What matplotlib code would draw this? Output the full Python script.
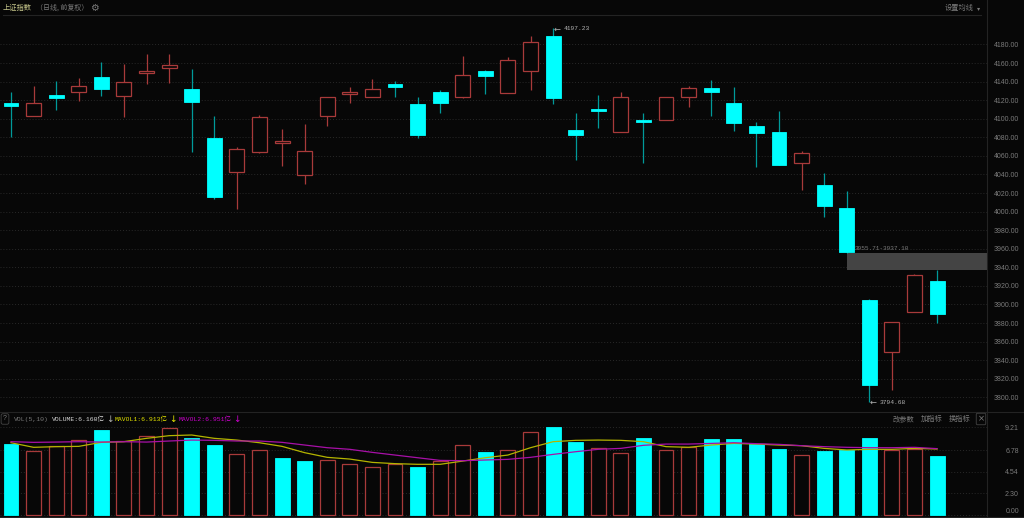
import matplotlib
matplotlib.use('Agg')
import matplotlib.pyplot as plt
from matplotlib.lines import Line2D
from matplotlib.patches import Rectangle

W, H = 1024, 518

# daily candles
opens = [4116.6, 4102.6, 4125.6, 4129.2, 4144.6, 4124.9, 4149.7, 4155.0, 4131.7, 4079.3, 4043.0, 4064.2, 4074.3, 4039.8,
         4102.6, 4127.0, 4123.8, 4137.1, 4115.6, 4129.2, 4123.4, 4151.1, 4128.1, 4151.1, 4189.5, 4087.5, 4110.2, 4085.4,
         4098.7, 4098.3, 4123.1, 4133.1, 4117.0, 4091.9, 4085.7, 4052.4, 4028.3, 4004.2, 3904.8, 3848.8, 3891.9, 3924.9]
closes = [4113.4, 4116.6, 4122.7, 4135.7, 4132.4, 4139.2, 4151.5, 4157.6, 4118.1, 4015.7, 4067.1, 4101.5, 4075.7, 4064.9,
          4123.1, 4128.5, 4131.7, 4133.9, 4082.2, 4117.4, 4146.8, 4146.4, 4162.9, 4182.3, 4122.7, 4082.2, 4108.7, 4123.4,
          4096.5, 4123.1, 4132.8, 4129.2, 4095.4, 4085.0, 4049.8, 4062.8, 4006.4, 3956.9, 3813.6, 3880.7, 3931.4, 3889.3]
highs = [4128.8, 4135.7, 4140.3, 4143.6, 4160.8, 4159.0, 4170.1, 4170.1, 4153.2, 4103.0, 4069.6, 4104.4, 4088.6, 4094.4,
         4123.1, 4133.9, 4142.5, 4140.3, 4123.8, 4131.0, 4167.6, 4152.2, 4166.5, 4188.8, 4197.23, 4105.9, 4125.6, 4128.8,
         4106.2, 4123.8, 4135.7, 4141.8, 4133.9, 4096.2, 4108.4, 4065.3, 4041.6, 4022.2, 3905.9, 3880.7, 3932.8, 3937.10]
lows = [4080.0, 4102.6, 4109.8, 4119.5, 4124.5, 4102.3, 4137.8, 4138.5, 4064.6, 4013.6, 4002.8, 4062.8, 4048.8, 4029.7,
        4092.6, 4117.4, 4123.1, 4123.8, 4079.6, 4105.9, 4122.7, 4127.0, 4128.1, 4131.0, 4116.3, 4055.6, 4090.4, 4085.4,
        4052.4, 4098.3, 4112.7, 4103.3, 4086.8, 4048.4, 4049.8, 4023.3, 3993.8, 3955.71, 3794.68, 3807.8, 3891.9, 3880.0]

# volume panel
volumes = [7.43, 6.67, 7.19, 7.89, 8.90, 7.75, 8.24, 9.08, 8.06, 7.36, 6.35, 6.77, 6.00, 5.62,
           5.72, 5.31, 4.99, 5.31, 5.03, 5.65, 7.30, 6.60, 6.84, 8.66, 9.25, 7.68, 6.98, 6.49,
           8.03, 6.77, 7.09, 7.96, 7.96, 7.43, 6.88, 6.25, 6.74, 6.77, 8.10, 6.84, 6.91, 6.16]
vol_up = [0, 1, 1, 1, 0, 1, 1, 1, 0, 0, 1, 1, 0, 0,
          1, 1, 1, 1, 0, 1, 1, 0, 1, 1, 0, 0, 1, 1,
          0, 1, 1, 0, 0, 0, 0, 1, 0, 0, 0, 1, 1, 0]
mavol1 = [7.57, 7.09, 7.16, 7.19, 7.61, 7.68, 8.03, 8.31, 8.38, 8.03, 7.85, 7.57, 7.19, 6.53,
          6.04, 5.86, 5.51, 5.38, 5.31, 5.31, 5.65, 6.00, 6.28, 7.05, 7.68, 7.82, 7.85, 7.82,
          7.68, 7.16, 7.09, 7.33, 7.50, 7.43, 7.33, 7.26, 6.98, 6.81, 6.88, 6.88, 6.98, 6.913]
mavol2 = [7.68, 7.61, 7.64, 7.68, 7.64, 7.68, 7.64, 7.75, 7.85, 7.82, 7.75, 7.75, 7.61, 7.33,
          7.05, 6.88, 6.56, 6.28, 6.00, 5.72, 5.69, 5.76, 5.83, 6.04, 6.35, 6.63, 6.88, 6.98,
          7.30, 7.43, 7.43, 7.50, 7.57, 7.47, 7.40, 7.26, 7.16, 7.09, 7.05, 7.05, 7.09, 6.951]

price_ticks = [3800, 3820, 3840, 3860, 3880, 3900, 3920, 3940, 3960, 3980, 4000, 4020, 4040, 4060, 4080, 4100, 4120, 4140, 4160, 4180]
vol_ticks = [0.00, 2.30, 4.54, 6.78, 9.21]
gap_low, gap_high = 3937.10, 3955.71
gap_start = 37

BG = '#070707'
CYAN = '#00ffff'
RED = '#a83a3a'
WICK_CYAN = '#009a9a'
GRID = '#282828'
GREY = '#7a7a7a'
LINE = '#232323'
CJK = ['Noto Sans CJK SC', 'DejaVu Sans']
MONO = ['Liberation Mono', 'Noto Sans CJK SC', 'DejaVu Sans']
X_RIGHT = 43.21


def px_axes(left, top, right, bottom):
    return fig.add_axes([left / W, 1 - bottom / H, (right - left) / W, (bottom - top) / H])


def px_text(x, y, s, color=GREY, size=5.2, family=CJK, ha='left', **kw):
    return fig.text(x / W, 1 - y / H, s, color=color, fontsize=size, family=family, ha=ha, va='center', **kw)


def px_line(x0, y0, x1, y1, color=LINE):
    fig.add_artist(Line2D([x0 / W, x1 / W], [1 - y0 / H, 1 - y1 / H], color=color, lw=0.8))


def style_axis(ax, ticks, labels):
    ax.set_facecolor(BG)
    for s in ax.spines.values():
        s.set_visible(False)
    ax.yaxis.tick_right()
    ax.set_yticks(ticks)
    ax.set_yticklabels(labels, family='Liberation Sans', fontsize=5.0, color=GREY, ha='right')
    ax.tick_params(axis='y', length=0, pad=23)
    ax.grid(axis='y', color=GRID, lw=0.7, ls=(0, (1, 2)))
    ax.set_axisbelow(True)
    ax.set_xlim(-0.487, X_RIGHT)


fig = plt.figure(figsize=(W / 100, H / 100), dpi=100, facecolor=BG)

# price panel
ax = px_axes(0, 14.5, 987, 412)
style_axis(ax, price_ticks, ['%.2f' % p for p in price_ticks])
ax.set_ylim(3784.2, 4212.3)
ax.set_xticks([])
days = list(range(len(opens)))
ax.add_patch(Rectangle((gap_start, gap_low), X_RIGHT - gap_start, gap_high - gap_low, facecolor='#444444', edgecolor='none', zorder=1))
for i in days:
    up = closes[i] >= opens[i]
    ax.plot([i, i], [lows[i], highs[i]], color=RED if up else WICK_CYAN, lw=0.9, zorder=2, solid_capstyle='butt')
    bottom = min(opens[i], closes[i])
    height = abs(closes[i] - opens[i])
    if up:
        ax.bar(i, height, bottom=bottom, width=0.66, facecolor=BG, edgecolor=RED, linewidth=0.9, zorder=3)
    else:
        ax.bar(i, height, bottom=bottom, width=0.66, facecolor=CYAN, edgecolor=CYAN, linewidth=0.6, zorder=3)

# volume panel
ax2 = px_axes(0, 412, 987, 517)
style_axis(ax2, vol_ticks, ['%.2f' % v for v in vol_ticks])
ax2.set_ylim(-0.21, 10.79)
ax2.get_yticklabels()[0].set_va('bottom')
for i in days:
    if vol_up[i]:
        ax2.bar(i, volumes[i], width=0.66, facecolor=BG, edgecolor=RED, linewidth=0.9, zorder=3)
    else:
        ax2.bar(i, volumes[i], width=0.66, facecolor=CYAN, edgecolor=CYAN, linewidth=0.6, zorder=3)
ax2.plot(days, mavol1, color='#b4b400', lw=0.9, zorder=4)
ax2.plot(days, mavol2, color='#a810a8', lw=0.9, zorder=4)
ax2.set_xticks(days)
ax2.set_xticklabels([])
ax2.tick_params(axis='x', length=1.2, width=0.5, color='#333333', direction='out', pad=0)

# frame lines
px_line(3, 14.5, 981, 14.5)
px_line(0, 412, W, 412)
px_line(0, 517, W, 517)
px_line(987, 0, 987, H)

# header
px_text(3, 8, '上证指数', color='#c8c88c')
px_text(36, 8, '（日线, 前复权）', size=5.0)
px_text(94.5, 8, '⚙', size=7, family=['DejaVu Sans'], ha='center')
px_text(945, 8, '设置均线', size=5.2)
px_text(978.5, 8.5, '▾', size=4.5, family=['DejaVu Sans'], ha='center')

# volume header
px_text(5, 419, '?', size=5, family=MONO, ha='center',
        bbox=dict(boxstyle='round,pad=0.25', facecolor=BG, edgecolor='#444444', lw=0.6))
px_text(14, 419, 'VOL(5,10)', size=4.6, family=MONO)
px_text(52, 419, 'VOLUME:6.160亿', color='#d8d8d8', size=4.6, family=MONO)
px_text(110, 419, '↓', color='#b0b0b0', size=6.5, family=['DejaVu Sans'], ha='center')
px_text(115, 419, 'MAVOL1:6.913亿', color='#e6e600', size=4.6, family=MONO)
px_text(173, 419, '↓', color='#e6e600', size=6.5, family=['DejaVu Sans'], ha='center')
px_text(179, 419, 'MAVOL2:6.951亿', color='#d000d0', size=4.6, family=MONO)
px_text(237, 419, '↓', color='#d000d0', size=6.5, family=['DejaVu Sans'], ha='center')
px_text(893, 419, '改参数', size=5.2)
px_text(921, 419, '加指标', size=5.2)
px_text(949, 419, '换指标', size=5.2)
px_text(981, 419, '×', size=6, family=['DejaVu Sans'], ha='center',
        bbox=dict(boxstyle='round,pad=0.15', facecolor=BG, edgecolor='#444444', lw=0.6))

# high / low / gap notes
px_text(554, 29, '←', color='#b4b4b4', size=6, family=['DejaVu Sans'])
px_text(564, 29, '4197.23', color='#b4b4b4', size=4.5, family=MONO)
px_text(870, 402.5, '←', color='#b4b4b4', size=6, family=['DejaVu Sans'])
px_text(880, 402.5, '3794.68', color='#b4b4b4', size=4.5, family=MONO)
px_text(855, 249, '3955.71-3937.10', color=GREY, size=4.4, family=MONO)

fig.savefig('out.png', dpi=100, facecolor=BG)
